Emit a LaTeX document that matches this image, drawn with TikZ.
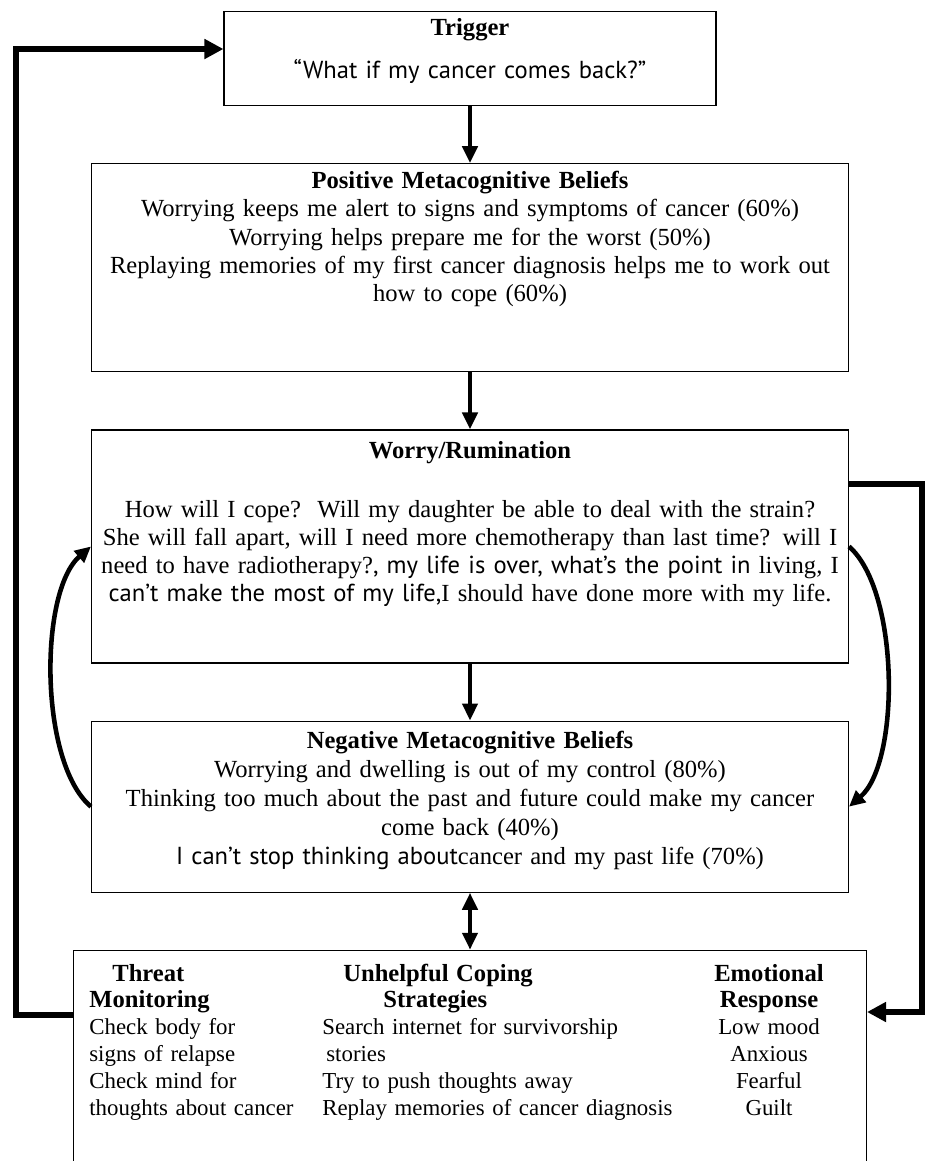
\documentclass[tikz,border=0pt]{standalone}
\usepackage{fontspec}
\setmainfont{Liberation Serif}
\newfontfamily\sansbit{PT Sans}
\usepackage{tikz}
\usetikzlibrary{arrows.meta,positioning}
\newcommand{\boxfont}{\fontsize{14}{16}\selectfont}
\newcommand{\listfont}{\fontsize{13}{15.3}\selectfont}
\newcommand{\listhead}[1]{{\fontsize{14}{15.3}\selectfont\bfseries #1}}
\tikzset{
triggerbox/.style={rectangle,draw,line width=0.7pt,inner sep=0pt,text width=9.84cm,align=center,font=\boxfont,text height=0.48cm,text depth=1.40cm},
beliefbox/.style={rectangle,draw,line width=0.7pt,inner sep=0pt,text width=15.14cm,align=center,font=\boxfont},
loopbox/.style={rectangle,draw,line width=0.7pt,inner sep=0pt,minimum width=15.86cm,minimum height=5.2cm},
column/.style={inner sep=0pt,font=\listfont,anchor=base west,align=left},
flowarrow/.style={-{Triangle[length=0.34cm,width=0.3cm]},line width=2.4pt},
twoway/.style={{Triangle[length=0.34cm,width=0.3cm]}-{Triangle[length=0.34cm,width=0.3cm]},line width=2.4pt},
backarrow/.style={-{Triangle[length=0.38cm,width=0.38cm]},line width=3.4pt},
cyclearrow/.style={-{Triangle[length=0.32cm,width=0.3cm]},line width=2.6pt}
}
\begin{document}
\begin{tikzpicture}[x=0.02cm,y=-0.02cm,node distance=1.14cm]
\clip (0,0) rectangle (926,1161);
\node[triggerbox,anchor=north] (trigger) at (470,11) {\textbf{Trigger}\\[0.3cm]{\sansbit “What if my cancer comes back?”}};
\node[beliefbox,below=of trigger,text height=0.5cm,text depth=3.66cm] (positive) {\textbf{Positive Metacognitive Beliefs}\\
Worrying keeps me alert to signs and symptoms of cancer (60\%)\\
Worrying helps prepare me for the worst (50\%)\\
Replaying memories of my first cancer diagnosis helps me to work out\\
how to cope (60\%)};
\node[beliefbox,below=of positive,text height=0.58cm,text depth=4.08cm] (worry) {\textbf{Worry/Rumination}\\[0.6cm]
How will I cope?\ \ Will my daughter be able to deal with the strain?\\
She will fall apart, will I need more chemotherapy than last time? will I\\
need to have radiotherapy?{\sansbit, my life is over, what’s the point in} living, I\\
{\sansbit can’t make the most of my life,}I should have done more with my life.};
\node[beliefbox,below=of worry,text height=0.54cm,text depth=2.88cm,font={\fontsize{14}{16.5}\selectfont}] (negative) {\textbf{Negative Metacognitive Beliefs}\\
Worrying and dwelling is out of my control (80\%)\\
Thinking too much about the past and future could make my cancer\\
come back (40\%)\\
{\sansbit I can’t stop thinking about}cancer and my past life (70\%)};
\node[loopbox,below=of negative] (loop) {};
\node[column,text width=4.4cm] (threat) at (89,981) {\hspace*{0.46cm}\listhead{Threat}\\\listhead{Monitoring}\\Check body for\\signs of relapse\\Check mind for\\thoughts about cancer};
\node[column,text width=8cm] (strategies) at (322,981) {\hspace*{0.42cm}\listhead{Unhelpful Coping}\\\hspace*{1.22cm}\listhead{Strategies}\\Search internet for survivorship\\\hspace*{0.08cm}stories\\Try to push thoughts away\\Replay memories of cancer diagnosis};
\node[column,anchor=base,align=center,text width=3cm] (emotion) at (769,981) {\listhead{Emotional}\\\listhead{Response}\\Low mood\\Anxious\\Fearful\\Guilt};
\coordinate (leftturn) at (16,49);
\coordinate (rightturn) at (922,1012);
\draw[flowarrow] (trigger) -- (positive);
\draw[flowarrow] (positive) -- (worry);
\draw[flowarrow] (worry) -- (negative);
\draw[twoway] (negative) -- (loop);
\draw[cyclearrow] (negative.west) .. controls +(-52,-44) and +(-52,45) .. (worry.west);
\draw[cyclearrow] (worry.east) .. controls +(51,45) and +(51,-44) .. (negative.east);
\draw[backarrow] ([yshift=-1.3cm]loop.north west) -| (leftturn) -- (leftturn -| trigger.west);
\draw[backarrow] ([yshift=-1.1cm]worry.north east) -| (rightturn) -- (rightturn -| loop.east);
\end{tikzpicture}
\end{document}
